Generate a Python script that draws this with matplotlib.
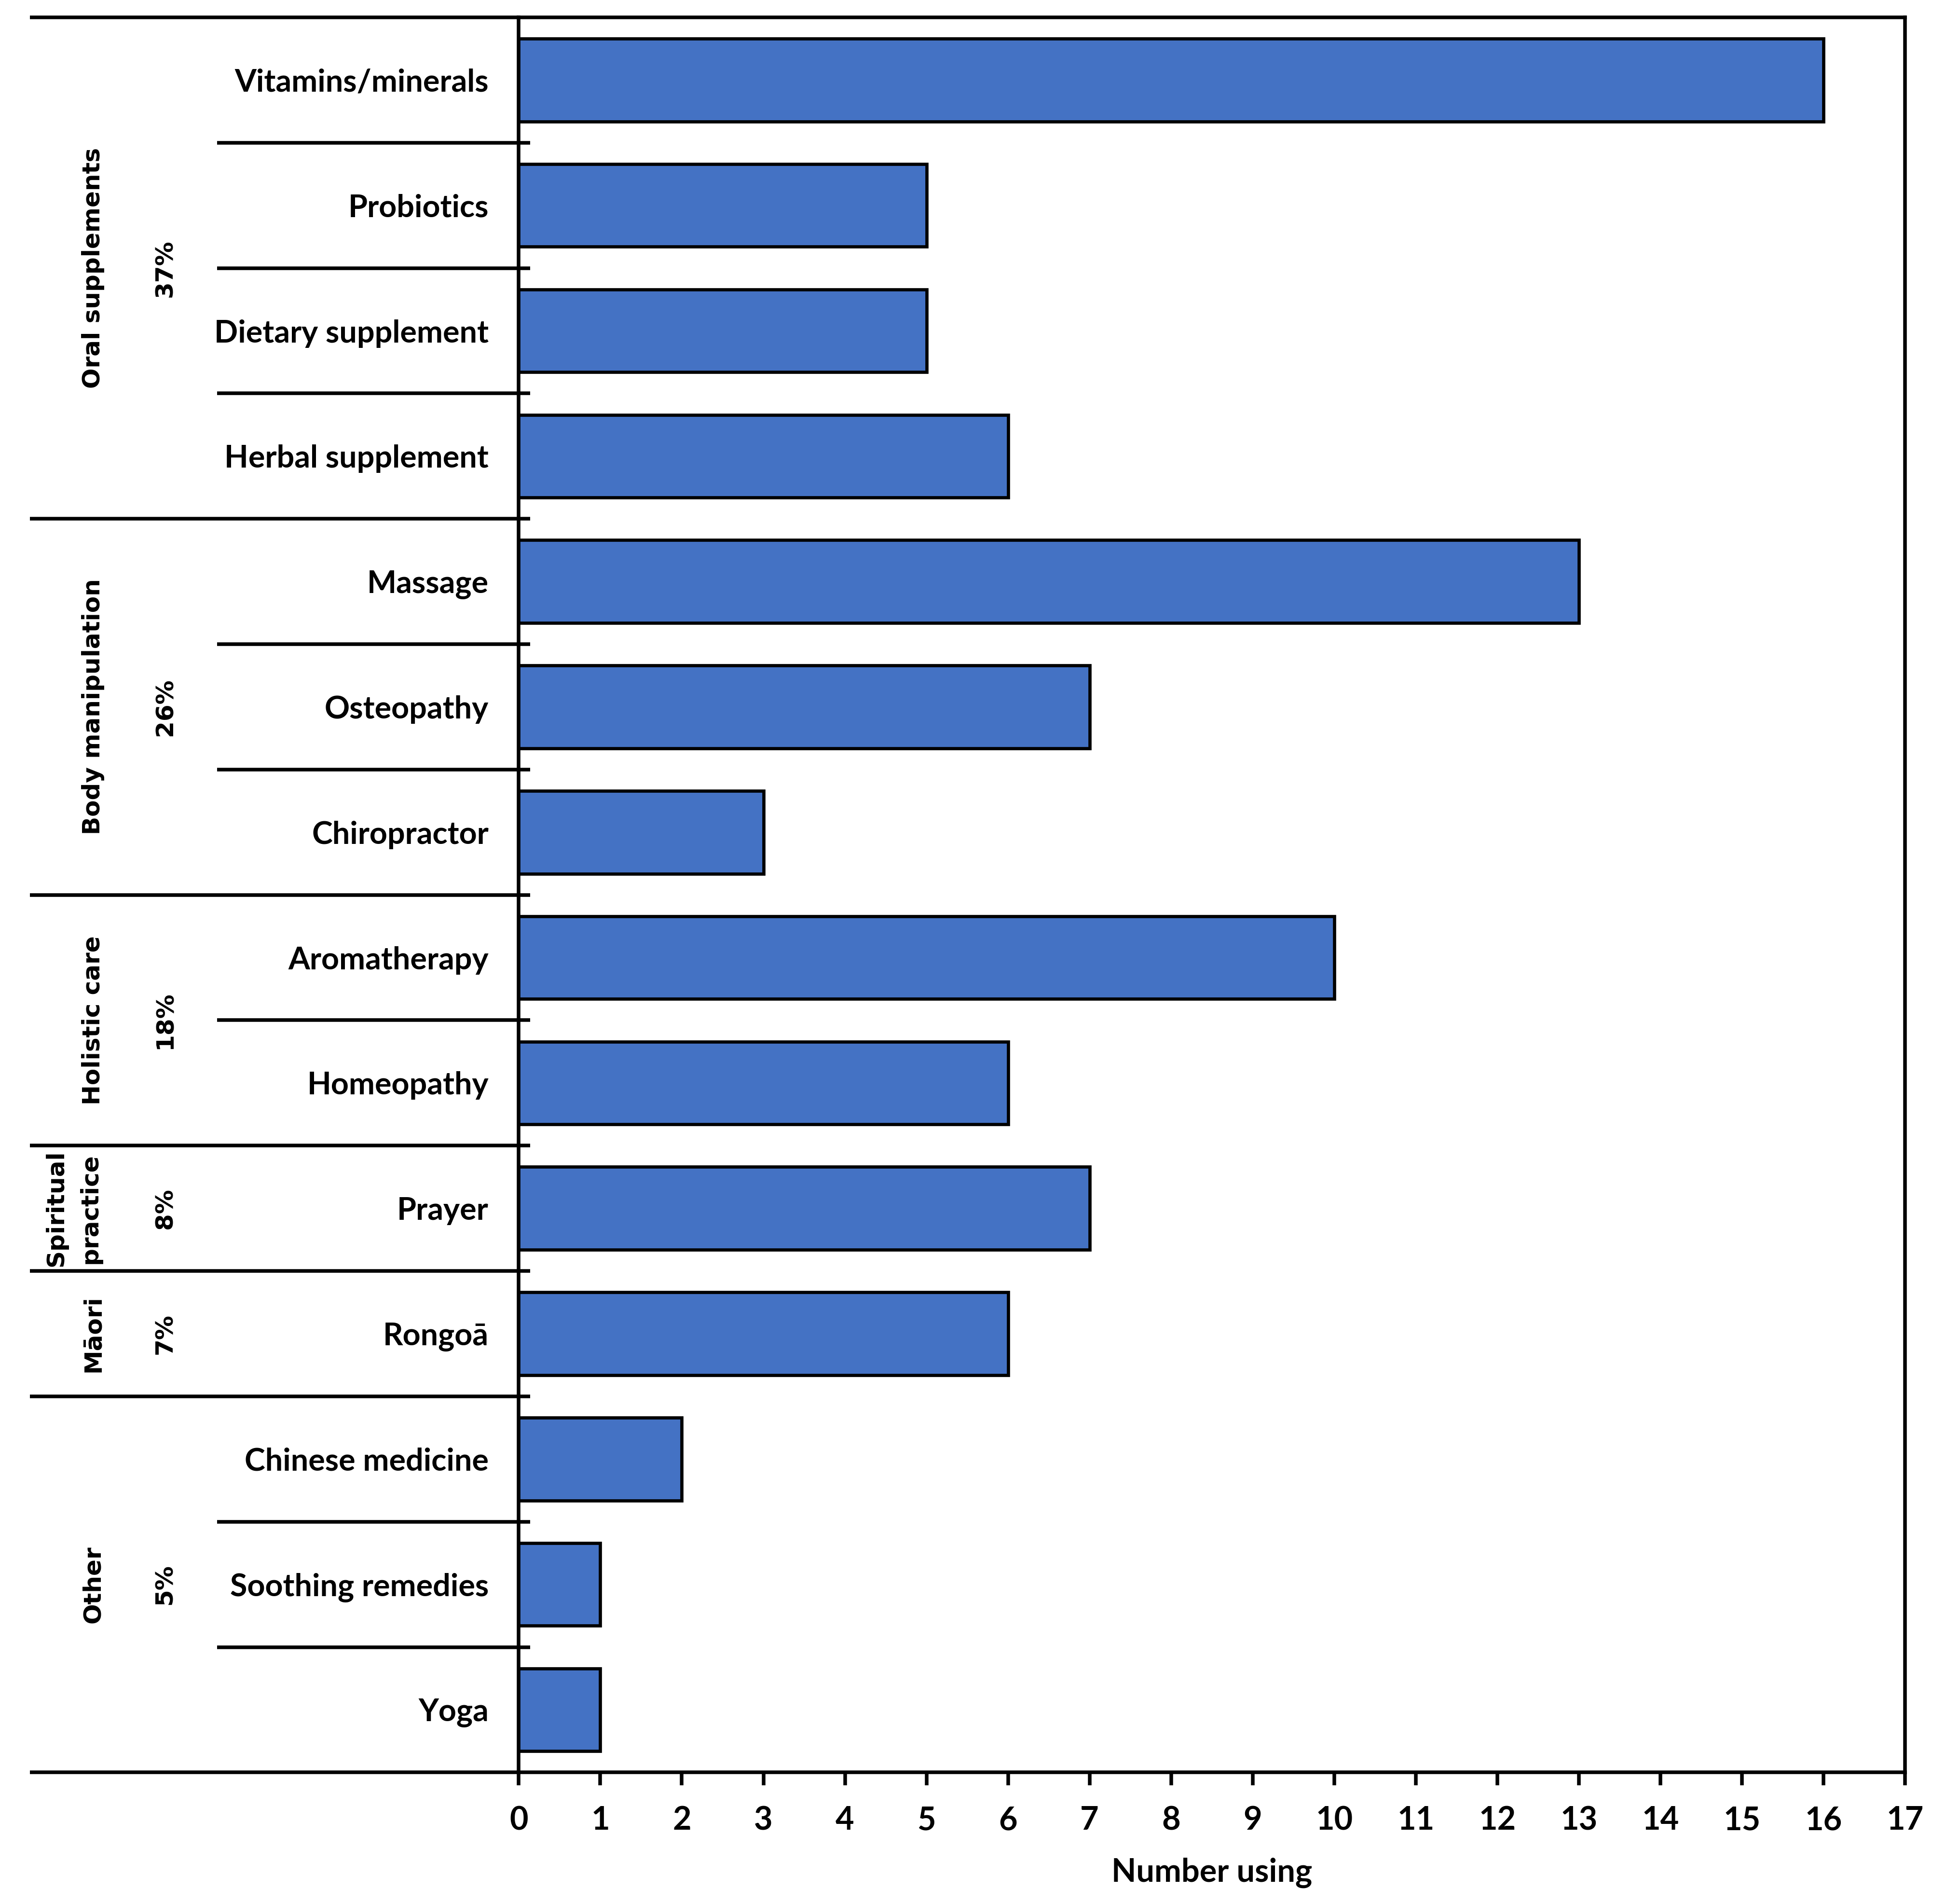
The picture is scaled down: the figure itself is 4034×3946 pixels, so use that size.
import matplotlib
matplotlib.use("Agg")
import matplotlib.pyplot as plt
import matplotlib.transforms as mtransforms

categories = ["Vitamins/minerals", "Probiotics", "Dietary supplement", "Herbal supplement",
              "Massage", "Osteopathy", "Chiropractor",
              "Aromatherapy", "Homeopathy",
              "Prayer",
              "Rongoā",
              "Chinese medicine", "Soothing remedies", "Yoga"]
values = [16, 5, 5, 6, 13, 7, 3, 10, 6, 7, 6, 2, 1, 1]
groups = ["Oral supplements", "Body manipulation", "Holistic care", "Spiritual\npractice", "Māori", "Other"]
group_sizes = [4, 3, 2, 1, 1, 3]
group_pcts = ["37%", "26%", "18%", "8%", "7%", "5%"]
xticks = list(range(0, 18))

W, H = 4034, 3946
dpi = 300
fig = plt.figure(figsize=(W / dpi, H / dpi), dpi=dpi)
L, R = 418 / 1568, 1535 / 1568
B, T = 1 - 1428 / 1534, 1 - 14 / 1534
ax = fig.add_axes([L, B, R - L, T - B])

lab_font = "Lato"
grp_font = "DejaVu Sans"
lw = 1.8

ypos = list(range(len(categories)))
ax.barh(ypos, values, height=0.66, color="#4472C4", edgecolor="black", linewidth=1.6, zorder=3)
ax.set_xlim(0, 17)
ax.set_ylim(len(categories) - 0.5, -0.5)
ax.set_xticks(xticks)
ax.set_xticklabels([str(t) for t in xticks], fontfamily=lab_font, fontweight="bold", fontsize=16)
ax.tick_params(axis="x", direction="out", length=6.5, width=lw, pad=10)
ax.set_yticks(ypos)
ax.set_yticklabels(categories, fontfamily=lab_font, fontweight="bold", fontsize=15.5)
ax.tick_params(axis="y", length=0, pad=15)
for s in ax.spines.values():
    s.set_linewidth(lw)
ax.set_xlabel("Number using", fontfamily=lab_font, fontweight="bold", fontsize=16, labelpad=11)

trans = mtransforms.blended_transform_factory(ax.transAxes, ax.transData)
x_far = (24 - 418) / 1117
x_near = (175 - 418) / 1117
x_tick_end = (427 - 418) / 1117
x_grp = (75 - 418) / 1117
x_grp2 = (59 - 418) / 1117
x_pct = (133 - 418) / 1117

transAx = ax.transAxes
for yy in (0, 1):
    ax.plot([x_far, 0], [yy, yy], color="black", lw=lw, transform=transAx, clip_on=False, solid_capstyle="butt")

start = 0
for gi, (g, n, p) in enumerate(zip(groups, group_sizes, group_pcts)):
    end = start + n
    for k in range(start + 1, end):
        ax.plot([x_near, x_tick_end], [k - 0.5, k - 0.5], color="black", lw=lw, transform=trans,
                clip_on=False, solid_capstyle="butt")
    if end < len(categories):
        ax.plot([x_far, x_tick_end], [end - 0.5, end - 0.5], color="black", lw=lw, transform=trans,
                clip_on=False, solid_capstyle="butt")
    yc = (start + end - 1) / 2
    multi = "\n" in g
    ax.text(x_grp2 if multi else x_grp, yc, g, rotation=90, ha="center", va="center",
            transform=trans, fontfamily=grp_font, fontweight="bold", fontsize=12,
            linespacing=1.6, multialignment="center")
    ax.text(x_pct, yc, p, rotation=90, ha="center", va="center", transform=trans,
            fontfamily=grp_font, fontweight="bold", fontsize=12)
    start = end

fig.savefig("out.png", dpi=dpi, facecolor="white")
